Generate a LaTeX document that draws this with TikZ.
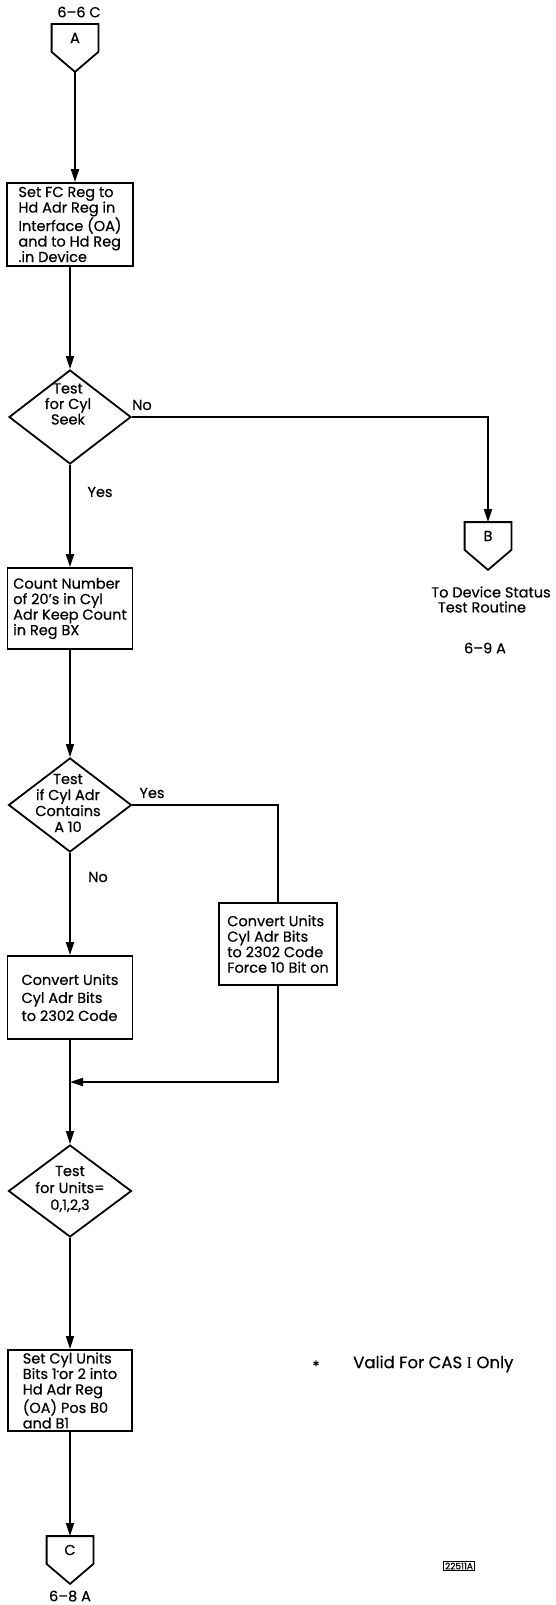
\documentclass[tikz,border=0pt]{standalone}
\usepackage{fontspec}
\setmainfont{Poppins}[FakeBold=0.5]
\newfontfamily\romfont{Liberation Serif}
\usepackage{tikz}
\usetikzlibrary{shapes.geometric, arrows.meta}

\begin{document}
\begin{tikzpicture}[x=1pt, y=-1pt, line width=1.8pt,
  every node/.style={font=\fontsize{14.5}{15.5}\selectfont},
  box/.style={draw, rectangle, align=left, inner xsep=2pt, inner ysep=0pt},
  decision/.style={draw, diamond, minimum width=122pt, minimum height=94pt, inner sep=0pt},
  dtext/.style={align=center, inner sep=0pt},
  offpage/.style={rectangle, minimum width=45pt, minimum height=26pt, inner sep=0pt,
    append after command={\pgfextra{\draw (\tikzlastnode.north west) -- (\tikzlastnode.north east)
      -- (\tikzlastnode.south east) -- ([yshift=-20pt]\tikzlastnode.south)
      -- (\tikzlastnode.south west) -- cycle;}}},
  arr/.style={-{Triangle[length=13pt,width=8pt]}}]
\useasboundingbox (0,0) rectangle (556,1605);

% 入口
\node (p66) at (79,12) {6--6 C};
\node[offpage] (A) at (75,38) {A};

% 第1框
\node[box, minimum width=126pt, minimum height=83pt] (b1) at (70,224.5)
  {Set FC Reg to\\Hd Adr Reg in\\Interface (OA)\\and to Hd Reg\\.in Device};

% 判断1
\node[decision] (d1) at (70,417) {};
\node[dtext] (t1) at (68,404) {Test\\for Cyl\\Seek};
\node (no1) at (142,405) {No};
\node (yes1) at (100,492) {Yes};

% 出口 B
\node[offpage] (B) at (488,536) {B};
\node (bt1) at (491,592) {To Device Status};
\node (bt2) at (482,607) {Test Routine};
\node (bt3) at (485,648) {6--9 A};

% 第2框
\node[box, minimum width=125pt, minimum height=81pt] (b2) at (70,608.5)
  {Count Number\\of 20's in Cyl\\Adr Keep Count\\in Reg BX};

% 判断2
\node[decision, minimum width=123pt] (d2) at (70,805) {};
\node[dtext, font=\fontsize{14.5}{16}\selectfont] (t2) at (68,803) {Test\\if Cyl Adr\\Contains\\A 10};
\node (yes2) at (152,793) {Yes};
\node (no2) at (98,877) {No};

% 两个转换框
\node[box, minimum width=118pt, minimum height=82pt] (b3) at (278,944)
  {Convert Units\\Cyl Adr Bits\\to 2302 Code\\Force 10 Bit on};
\node[box, minimum width=125pt, minimum height=83pt, font=\fontsize{14.5}{18}\selectfont] (b4) at (70,997.5)
  {Convert Units\\Cyl Adr Bits\\to 2302 Code};
\coordinate (m) at (70,1082);

% 判断3
\node[decision, minimum width=123pt, minimum height=92pt] (d3) at (70,1191) {};
\node[dtext, font=\fontsize{14.5}{17}\selectfont] (t3) at (70,1189) {Test\\for Units=\\0,1,2,3};

% 第5框
\node[box, minimum width=124pt, minimum height=81pt] (b5) at (70,1390.5)
  {Set Cyl Units\\Bits 1\raisebox{0.6ex}{\tiny *}or 2 into\\Hd Adr Reg\\(OA) Pos B0\\and B1};

% 出口 C
\node[offpage] (C) at (70,1550) {C};
\node (p68) at (70,1596) {6--8 A};

% 注
\node (star) at (316,1366) {*};
\node[anchor=west, font=\fontsize{16.5}{18}\selectfont] (note) at (349,1364) {Valid For CAS {\romfont I} Only};
\node[draw, line width=0.8pt, font=\fontsize{9}{10}\selectfont, inner sep=1.5pt] (code) at (459,1566) {22511A};

% ========== 连线 ==========
\draw[arr] ([yshift=-20pt]A.south) -- (A.south |- b1.north);
\draw[arr] (b1.south) -- (d1.north);
\draw[arr] (d1.east) -| (B.north);
\draw[arr] (d1.south) -- (b2.north);
\draw[arr] (b2.south) -- (d2.north);
\draw (d2.east) -| (b3.north);
\draw[arr] (d2.south) -- (b4.north);
\draw[arr] (b3.south) |- (m);
\draw[arr] (b4.south) -- (d3.north);
\draw[arr] (d3.south) -- (b5.north);
\draw[arr] (b5.south) -- (C.north);
\end{tikzpicture}
\end{document}
